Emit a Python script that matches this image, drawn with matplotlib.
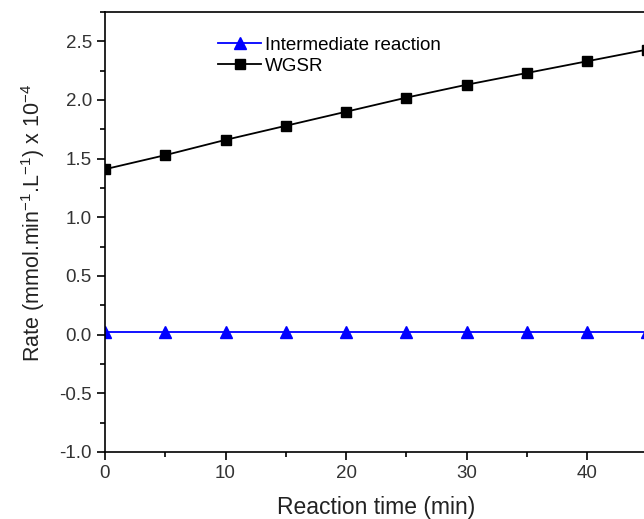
import matplotlib.pyplot as plt
from matplotlib.ticker import MultipleLocator, FixedLocator

plt.rcParams['font.family'] = ['Liberation Sans', 'DejaVu Sans']
plt.rcParams['mathtext.fontset'] = 'custom'
plt.rcParams['mathtext.rm'] = 'Liberation Sans'

# data
cas = [0, 5, 10, 15, 20, 25, 30, 35, 40, 45]
wgsr = [1.41, 1.53, 1.66, 1.78, 1.90, 2.02, 2.13, 2.23, 2.33, 2.43]
meziprodukt = [0.02, 0.02, 0.02, 0.02, 0.02, 0.02, 0.02, 0.02, 0.02, 0.02]
x_popisky = [0, 10, 20, 30, 40]

fig = plt.figure(figsize=(6.44, 5.19), dpi=100)
# graf je v originale oriznuty vpravo, osa tedy pokracuje za okraj
ax = fig.add_axes([105 / 644, (519 - 452) / 519, (60 * 12.05) / 644, 440 / 519])

ax.plot(cas, meziprodukt, color='blue', marker='^', markersize=9, lw=1.3,
        label='Intermediate reaction')
ax.plot(cas, wgsr, color='black', marker='s', markersize=7, lw=1.3,
        label='WGSR')

ax.set_xlim(0, 60)
ax.set_ylim(-1.0, 2.75)
ax.xaxis.set_major_locator(FixedLocator(x_popisky))
ax.xaxis.set_minor_locator(FixedLocator([5, 15, 25, 35, 45]))
ax.yaxis.set_major_locator(MultipleLocator(0.5))
ax.yaxis.set_minor_locator(MultipleLocator(0.25))
ax.yaxis.set_major_formatter(plt.FuncFormatter(lambda v, p: f"{v:.1f}"))
ax.tick_params(which='major', direction='out', length=6, width=1.2,
               labelsize=13.5, colors='black', labelcolor='#333333')
ax.tick_params(which='minor', direction='out', length=3.5, width=1.2)
for s in ax.spines.values():
    s.set_linewidth(1.2)

ax.set_xlabel('Reaction time (min)', fontsize=16.5, color='#222222')
ax.xaxis.set_label_coords(0.375, -0.1)
ax.set_ylabel('Rate (mmol.min$^{-1}$.L$^{-1}$) x 10$^{-4}$', fontsize=15.5,
              color='#222222')
ax.yaxis.set_label_coords(-0.08, 0.52)

ax.legend(loc='upper left', bbox_to_anchor=(0.133, 0.982), frameon=False,
          fontsize=13.5, handlelength=2.3, handletextpad=0.2,
          labelspacing=0.2)

plt.savefig('out.png', dpi=100)
